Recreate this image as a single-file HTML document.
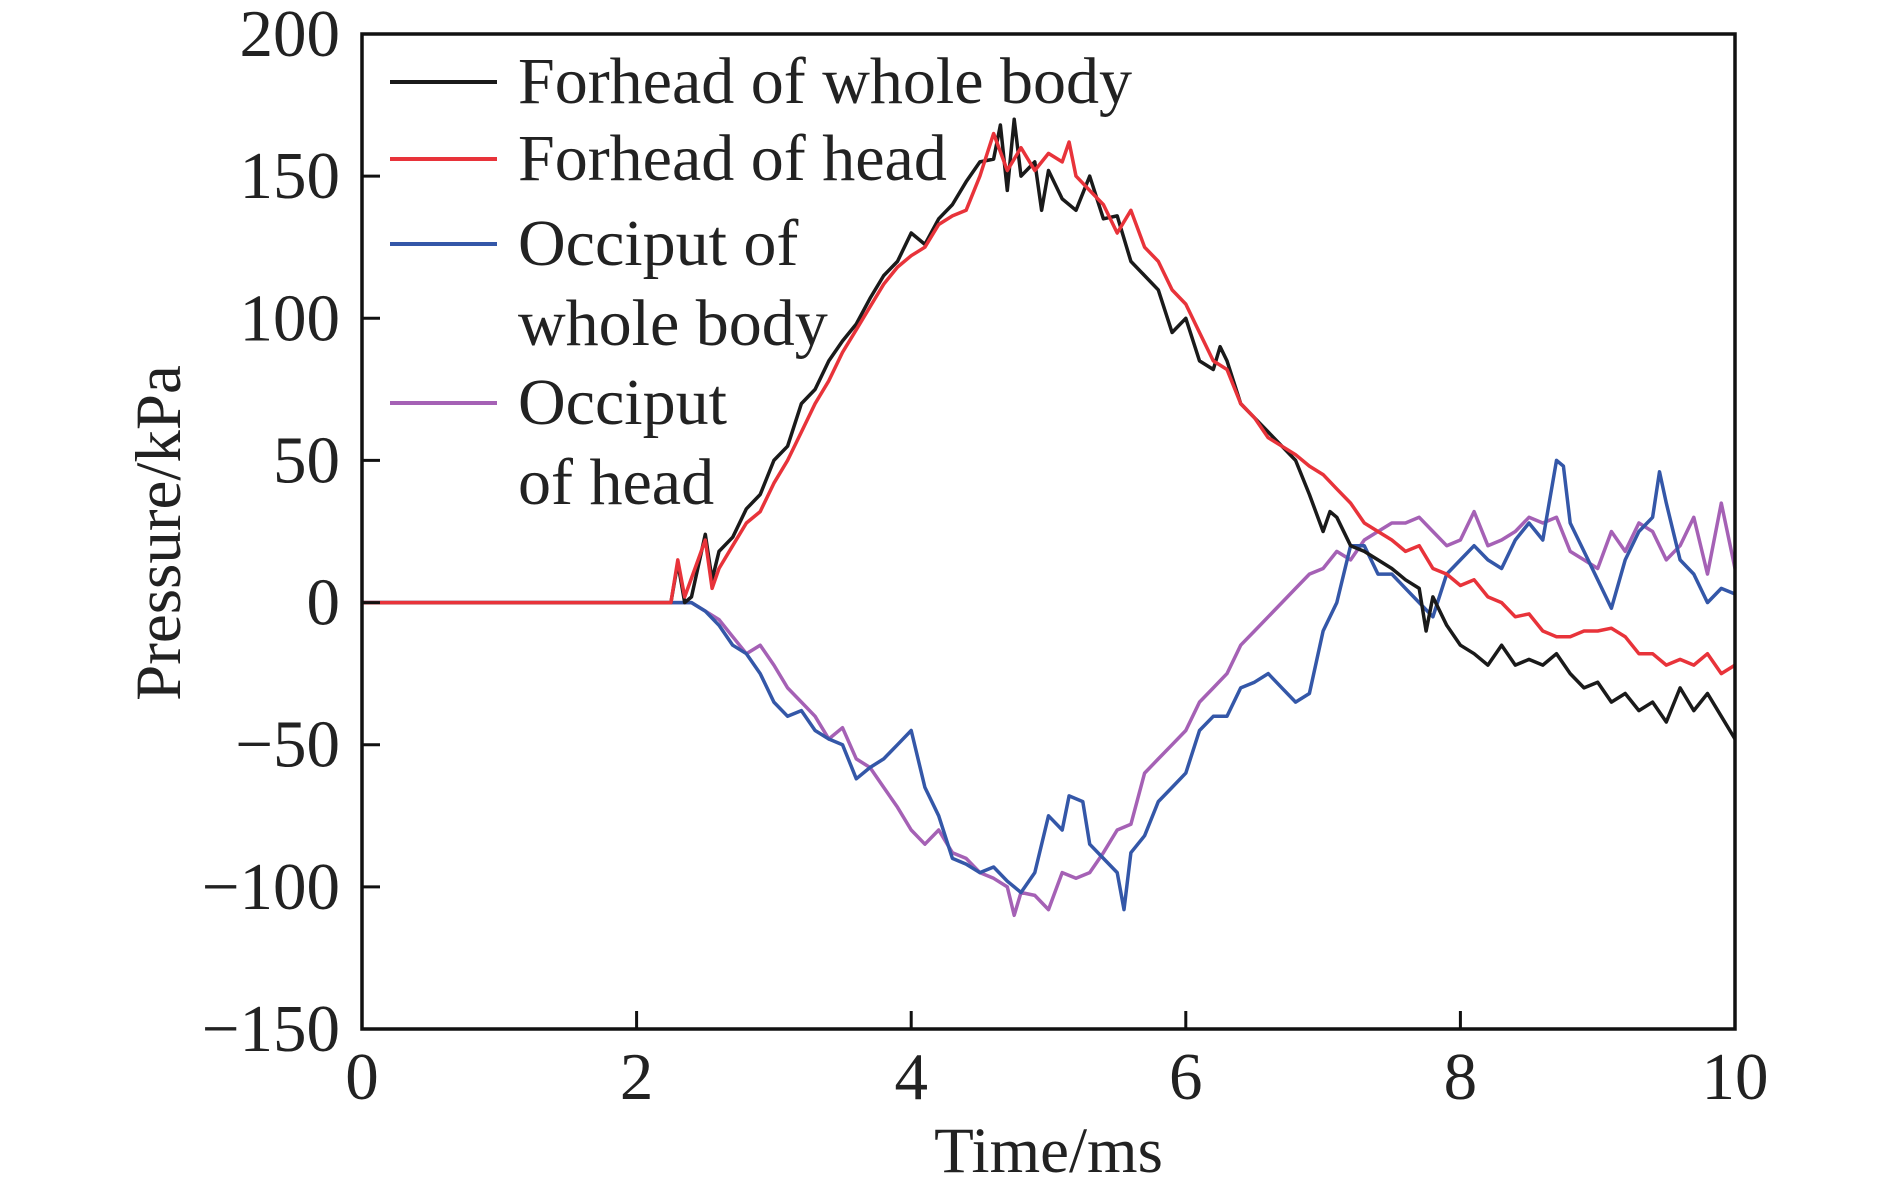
<!DOCTYPE html>
<html><head><meta charset="utf-8"><style>
html,body{margin:0;padding:0;background:#fff;}
svg{display:block;font-family:"Liberation Serif",serif;}
</style></head><body>
<svg id="chart" width="1890" height="1189" viewBox="0 0 1890 1189">
<g id="plot"></g>
</svg>
<script>
const xTicks=[0,2,4,6,8,10];
const yTicks=[-150,-100,-50,0,50,100,150,200];
const seriesNames=["Forhead of whole body","Forhead of head","Occiput of whole body","Occiput of head"];
const blackX=[0,2.25,2.3,2.35,2.4,2.5,2.55,2.6,2.7,2.8,2.9,3.0,3.1,3.2,3.3,3.4,3.5,3.6,3.7,3.8,3.9,4.0,4.1,4.2,4.3,4.4,4.5,4.6,4.65,4.7,4.75,4.8,4.9,4.95,5.0,5.1,5.2,5.3,5.4,5.5,5.6,5.7,5.8,5.9,6.0,6.1,6.2,6.25,6.3,6.4,6.5,6.6,6.7,6.8,6.9,7.0,7.05,7.1,7.2,7.3,7.4,7.5,7.6,7.7,7.75,7.8,7.9,8.0,8.1,8.2,8.3,8.4,8.5,8.6,8.7,8.8,8.9,9.0,9.1,9.2,9.3,9.4,9.5,9.6,9.7,9.8,9.9,10];
const blackY=[0,0,14,0,2,24,8,18,23,33,38,50,55,70,75,85,92,98,107,115,120,130,126,135,140,148,155,156,168,145,170,150,155,138,152,142,138,150,135,136,120,115,110,95,100,85,82,90,85,70,65,60,55,50,38,25,32,30,20,18,15,12,8,5,-10,2,-8,-15,-18,-22,-15,-22,-20,-22,-18,-25,-30,-28,-35,-32,-38,-35,-42,-30,-38,-32,-40,-48];
const redX=[0,2.25,2.3,2.35,2.5,2.55,2.6,2.7,2.8,2.9,3.0,3.1,3.2,3.3,3.4,3.5,3.6,3.7,3.8,3.9,4.0,4.1,4.2,4.3,4.4,4.5,4.6,4.7,4.8,4.9,5.0,5.1,5.15,5.2,5.3,5.4,5.5,5.6,5.7,5.8,5.9,6.0,6.1,6.2,6.3,6.4,6.5,6.6,6.7,6.8,6.9,7.0,7.1,7.2,7.3,7.4,7.5,7.6,7.7,7.8,7.9,8.0,8.1,8.2,8.3,8.4,8.5,8.6,8.7,8.8,8.9,9.0,9.1,9.2,9.3,9.4,9.5,9.6,9.7,9.8,9.9,10];
const redY=[0,0,15,2,22,5,12,20,28,32,42,50,60,70,78,88,96,104,112,118,122,125,133,136,138,150,165,152,160,152,158,155,162,150,145,140,130,138,125,120,110,105,95,85,82,70,65,58,55,52,48,45,40,35,28,25,22,18,20,12,10,6,8,2,0,-5,-4,-10,-12,-12,-10,-10,-9,-12,-18,-18,-22,-20,-22,-18,-25,-22];
const blueX=[0,2.4,2.5,2.6,2.7,2.8,2.9,3.0,3.1,3.2,3.3,3.4,3.5,3.6,3.7,3.8,3.9,4.0,4.1,4.2,4.3,4.4,4.5,4.6,4.7,4.8,4.9,5.0,5.1,5.15,5.25,5.3,5.4,5.5,5.55,5.6,5.7,5.8,5.9,6.0,6.1,6.2,6.3,6.4,6.5,6.6,6.7,6.8,6.9,7.0,7.1,7.2,7.3,7.4,7.5,7.6,7.7,7.8,7.9,8.0,8.1,8.2,8.3,8.4,8.5,8.6,8.7,8.75,8.8,8.9,9.0,9.1,9.2,9.3,9.4,9.45,9.5,9.6,9.7,9.8,9.9,10];
const blueY=[0,0,-3,-8,-15,-18,-25,-35,-40,-38,-45,-48,-50,-62,-58,-55,-50,-45,-65,-75,-90,-92,-95,-93,-98,-102,-95,-75,-80,-68,-70,-85,-90,-95,-108,-88,-82,-70,-65,-60,-45,-40,-40,-30,-28,-25,-30,-35,-32,-10,0,20,20,10,10,5,0,-5,10,15,20,15,12,22,28,22,50,48,28,18,8,-2,15,25,30,46,35,15,10,0,5,3];
const purpleX=[0,2.4,2.5,2.6,2.7,2.8,2.9,3.0,3.1,3.2,3.3,3.4,3.5,3.6,3.7,3.8,3.9,4.0,4.1,4.2,4.3,4.4,4.5,4.6,4.7,4.75,4.8,4.9,5.0,5.1,5.2,5.3,5.4,5.5,5.6,5.7,5.8,5.9,6.0,6.1,6.2,6.3,6.4,6.5,6.6,6.7,6.8,6.9,7.0,7.1,7.2,7.3,7.4,7.5,7.6,7.7,7.8,7.9,8.0,8.1,8.2,8.3,8.4,8.5,8.6,8.7,8.8,8.9,9.0,9.1,9.2,9.3,9.4,9.5,9.6,9.7,9.8,9.9,10];
const purpleY=[0,0,-3,-6,-12,-18,-15,-22,-30,-35,-40,-48,-44,-55,-58,-65,-72,-80,-85,-80,-88,-90,-95,-97,-100,-110,-102,-103,-108,-95,-97,-95,-88,-80,-78,-60,-55,-50,-45,-35,-30,-25,-15,-10,-5,0,5,10,12,18,15,22,25,28,28,30,25,20,22,32,20,22,25,30,28,30,18,15,12,25,18,28,25,15,20,30,10,35,12];

const L=362,R=1735,T=34,B=1029;
const xs=v=>L+(v-0)/10*(R-L);
const ys=v=>B-(v+150)/350*(B-T);
const NS="http://www.w3.org/2000/svg";
const g=document.getElementById('plot');
function mk(tag,attrs,text){const e=document.createElementNS(NS,tag);for(const k in attrs)e.setAttribute(k,attrs[k]);if(text!==undefined)e.textContent=text;g.appendChild(e);return e;}

const colors=["#1a1a1a","#e8333a","#3457a8","#a561b5"];
const data=[[blackX,blackY],[redX,redY],[blueX,blueY],[purpleX,purpleY]];
const sNames=['series-forhead-whole-body','series-forhead-head','series-occiput-whole-body','series-occiput-head'];
[3,2,0,1].forEach(i=>{
  const [X,Y]=data[i];
  const d=X.map((x,j)=>(j?'L':'M')+xs(x).toFixed(1)+','+ys(Y[j]).toFixed(1)).join('');
  const p=mk('path',{d:d,fill:'none',stroke:colors[i],'stroke-width':3.5,'stroke-linejoin':'round'});
  
  
});

const frame=mk('rect',{x:L,y:T,width:R-L,height:B-T,fill:'none',stroke:'#111','stroke-width':3.5});



xTicks.forEach(v=>{
  const t=mk('line',{x1:xs(v),x2:xs(v),y1:B,y2:B-18,stroke:'#111','stroke-width':3});
  
  
  const lb=mk('text',{x:xs(v),y:B+70,'text-anchor':'middle','font-size':67,fill:'#222'},String(v));
  
  
});
yTicks.forEach(v=>{
  const t=mk('line',{x1:L,x2:L+18,y1:ys(v),y2:ys(v),stroke:'#111','stroke-width':3});
  
  
  const lb=mk('text',{x:L-22,y:ys(v)+22,'text-anchor':'end','font-size':67,fill:'#222'},v<0?'\u2212'+(-v):String(v));
  
  
});
const xt=mk('text',{x:(L+R)/2,y:1172,'text-anchor':'middle','font-size':65,fill:'#222'},'Time/ms');


const yt=mk('text',{x:0,y:0,transform:'translate(180,533) rotate(-90)','text-anchor':'middle','font-size':65,fill:'#222'},'Pressure/kPa');



const legRows=[[82,['Forhead of whole body']],[159,['Forhead of head']],[244,['Occiput of','whole body']],[403,['Occiput','of head']]];
legRows.forEach((r,i)=>{
  const ln=mk('line',{x1:390,x2:497,y1:r[0],y2:r[0],stroke:colors[i],'stroke-width':4});
  
  
  r[1].forEach((s,k)=>{
    const tx=mk('text',{x:518,y:r[0]+21+k*80,'font-size':66,fill:'#222'},s);
    
    
  });
});
</script>
</body></html>
